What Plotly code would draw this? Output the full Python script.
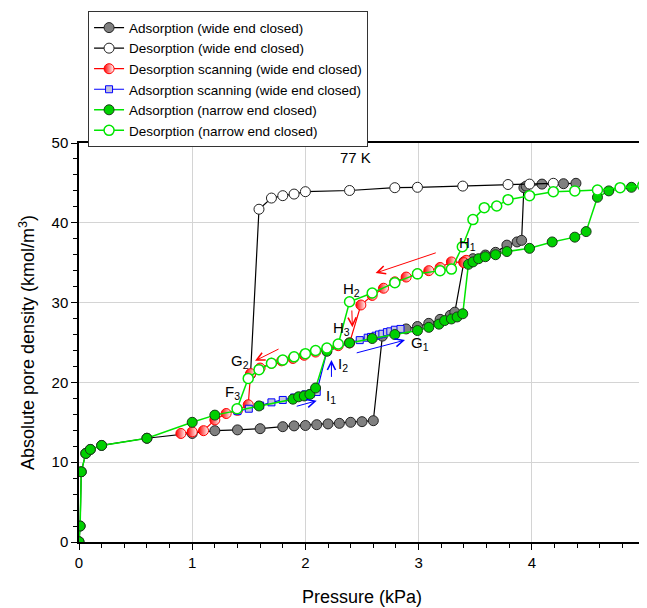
import plotly.graph_objects as go

# ---------------- data ----------------
ads_wide_x = [0, 0.01, 0.02, 0.06, 0.1, 0.2, 0.6, 1.0, 1.2, 1.4, 1.6, 1.8, 1.9, 2.0, 2.1, 2.2, 2.3, 2.4,
              2.5, 2.6, 2.68, 2.79, 2.89, 2.99, 3.09, 3.19, 3.28, 3.32, 3.40, 3.48, 3.59, 3.68, 3.78,
              3.87, 3.91, 3.93, 3.95, 4.09, 4.28, 4.39]
ads_wide_y = [0.04, 2.0, 8.8, 11.1, 11.6, 12.1, 13.0, 13.6, 13.95, 14.05, 14.2, 14.45, 14.55, 14.6, 14.7,
              14.8, 14.87, 15.0, 15.08, 15.2, 25.8, 26.3, 26.7, 27.0, 27.4, 27.9, 28.4, 28.8, 35.1, 35.5,
              35.96, 36.3, 37.2, 37.6, 37.8, 44.4, 44.6, 44.85, 44.9, 44.95]

des_wide_x = [4.19, 3.98, 3.79, 3.39, 2.99, 2.79, 2.39, 2.0, 1.9, 1.8, 1.7, 1.59, 1.515]
des_wide_y = [44.95, 44.85, 44.8, 44.6, 44.45, 44.4, 44.05, 43.9, 43.6, 43.4, 43.1, 41.7, 21.0]

des_scan_x = [3.42, 3.40, 3.29, 3.19, 3.09, 2.99, 2.89, 2.79, 2.69, 2.59, 2.49, 2.39, 2.29, 2.19, 2.09,
              1.99, 1.89, 1.79, 1.70, 1.60, 1.516, 1.495, 1.40, 1.30, 1.20, 1.10, 1.0, 0.9]
des_scan_y = [35.3, 35.0, 35.1, 34.4, 34.0, 33.6, 33.2, 32.6, 31.8, 30.9, 29.7, 24.95, 24.6, 24.1, 23.8,
              23.4, 23.0, 22.7, 22.4, 21.8, 21.1, 17.2, 16.5, 16.1, 15.3, 13.95, 13.8, 13.6]

ads_scan_x = [1.40, 1.50, 1.60, 1.70, 1.80, 1.90, 1.95, 2.0, 2.05, 2.10, 2.19, 2.39, 2.48, 2.55, 2.58,
              2.62, 2.65, 2.68, 2.72, 2.75, 2.79, 2.84]
ads_scan_y = [16.4, 16.7, 17.1, 17.5, 17.8, 18.1, 18.3, 18.5, 18.6, 18.8, 23.9, 24.95, 25.3, 25.6, 25.7,
              25.85, 26.0, 26.1, 26.3, 26.4, 26.6, 26.7]

ads_narrow_x = [0, 0.01, 0.02, 0.06, 0.1, 0.2, 0.6, 1.0, 1.2, 1.59, 1.89, 1.94, 1.99, 2.04, 2.09, 2.19,
                2.39, 2.59, 2.79, 2.99, 3.09, 3.18, 3.23, 3.29, 3.34, 3.39, 3.44, 3.48, 3.53, 3.59, 3.68,
                3.78, 3.98, 4.18, 4.38, 4.48, 4.58, 4.68, 4.88, 5.0]
ads_narrow_y = [0.04, 2.0, 8.8, 11.1, 11.6, 12.1, 13.0, 15.0, 15.9, 17.05, 17.9, 18.2, 18.3, 18.5, 19.3,
                23.9, 24.95, 25.5, 26.0, 26.5, 26.9, 27.3, 27.75, 27.95, 28.2, 28.6, 34.8, 35.1, 35.5,
                35.75, 36.0, 36.4, 36.8, 37.6, 38.2, 38.9, 43.2, 44.0, 44.45, 44.6]

des_narrow_x = [4.98, 4.78, 4.58, 4.38, 4.19, 3.98, 3.79, 3.69, 3.58, 3.48, 3.386, 3.29, 3.19, 2.99, 2.79,
                2.59, 2.39, 2.29, 2.19, 2.09, 2.0, 1.9, 1.8, 1.7, 1.59, 1.495, 1.396]
des_narrow_y = [44.65, 44.4, 44.1, 44.0, 43.9, 43.4, 42.9, 42.1, 41.9, 40.4, 37.0, 34.2, 34.0, 33.6, 32.5,
                31.2, 30.1, 24.8, 24.3, 24.0, 23.6, 23.2, 22.8, 22.4, 21.6, 20.5, 16.7]

# point labels: text, x, y
label_text = ["77 K", "H<sub>1</sub>", "H<sub>2</sub>", "H<sub>3</sub>", "G<sub>2</sub>", "F<sub>3</sub>",
              "I<sub>1</sub>", "I<sub>2</sub>", "G<sub>1</sub>"]
label_x = [2.44, 3.43, 2.41, 2.32, 1.42, 1.36, 2.23, 2.33, 3.01]
label_y = [48.2, 37.4, 31.6, 26.8, 22.6, 18.7, 18.2, 22.2, 24.9]

# arrows: (tail x, tail y) -> (head x, head y), colour
arrow_tail_x = [1.776, 3.165, 2.41, 2.44, 1.91, 2.23]
arrow_tail_y = [24.27, 36.3, 29.2, 23.65, 16.96, 20.5]
arrow_head_x = [1.555, 2.62, 2.415, 2.88, 2.10, 2.23]
arrow_head_y = [22.7, 33.7, 26.9, 25.3, 17.7, 22.8]
arrow_color = ["#ff0000", "#ff0000", "#ff0000", "#0000ff", "#0000ff", "#0000ff"]

FONT = "Arial, Liberation Sans, sans-serif"
GREEN = "#00e600"

fig = go.Figure()
fig.add_trace(go.Scatter(x=ads_wide_x, y=ads_wide_y, mode="lines+markers",
                         name="Adsorption (wide end closed)",
                         line=dict(color="black", width=1.2),
                         marker=dict(symbol="circle", size=10, color="#808080",
                                     line=dict(color="#222222", width=1))))
fig.add_trace(go.Scatter(x=des_wide_x, y=des_wide_y, mode="lines+markers",
                         name="Desorption (wide end closed)",
                         line=dict(color="black", width=1.2),
                         marker=dict(symbol="circle", size=10, color="white",
                                     line=dict(color="#222222", width=1))))
fig.add_trace(go.Scatter(x=des_scan_x, y=des_scan_y, mode="lines+markers",
                         name="Desorption scanning (wide end closed)",
                         line=dict(color="#ff0000", width=1.2),
                         marker=dict(symbol="circle", size=10, color="#ff0000",
                                     gradient=dict(type="horizontal", color="white"),
                                     line=dict(color="#ff0000", width=1))))
fig.add_trace(go.Scatter(x=ads_scan_x, y=ads_scan_y, mode="lines+markers",
                         name="Adsorption scanning (wide end closed)",
                         line=dict(color="#0000ff", width=1.2),
                         marker=dict(symbol="square", size=7, color="#c4c4dc",
                                     line=dict(color="#0000ff", width=1))))
fig.add_trace(go.Scatter(x=ads_narrow_x, y=ads_narrow_y, mode="lines+markers",
                         name="Adsorption (narrow end closed)",
                         line=dict(color=GREEN, width=1.5),
                         marker=dict(symbol="circle", size=10, color="#00d000",
                                     line=dict(color="#1a3a1a", width=1))))
fig.add_trace(go.Scatter(x=des_narrow_x, y=des_narrow_y, mode="lines+markers",
                         name="Desorption (narrow end closed)",
                         line=dict(color=GREEN, width=1.5),
                         marker=dict(symbol="circle", size=10, color="white",
                                     line=dict(color=GREEN, width=1.5))))

for t, x, y in zip(label_text, label_x, label_y):
    fig.add_annotation(x=x, y=y, text=t, showarrow=False,
                       font=dict(family=FONT, size=15, color="black"))

for tx, ty, hx, hy, c in zip(arrow_tail_x, arrow_tail_y, arrow_head_x, arrow_head_y, arrow_color):
    fig.add_annotation(x=hx, y=hy, ax=tx, ay=ty, xref="x", yref="y", axref="x", ayref="y",
                       text="", showarrow=True, arrowhead=5, arrowsize=1.6, arrowwidth=1,
                       arrowcolor=c)

# page body has a default 8px margin, so the figure is sized to fit the window from (8, 8)
fig.update_layout(
    width=639, height=600,
    margin=dict(l=71, r=2, t=135, b=66, autoexpand=False),
    paper_bgcolor="white", plot_bgcolor="white",
    font=dict(family=FONT, size=15, color="black"),
    showlegend=True,
    legend=dict(x=0.016, y=1.33, xanchor="left", yanchor="top",
                bordercolor="#333333", borderwidth=1, bgcolor="white",
                font=dict(family=FONT, size=13.5), tracegroupgap=0, itemwidth=30),
)
fig.update_xaxes(range=[0, 5], tickvals=[0, 1, 2, 3, 4, 5],
                 ticks="outside", ticklen=6, tickcolor="black", tickwidth=1,
                 ticklabeloverflow="allow",
                 minor=dict(dtick=0.2, ticks="outside", ticklen=4, tickcolor="black", showgrid=False),
                 showline=True, linecolor="black", linewidth=1.5, mirror=True,
                 showgrid=True, gridcolor="#d4d4d4", gridwidth=1.2, zeroline=False,
                 title=dict(text="Pressure (kPa)", font=dict(size=18), standoff=21),
                 tickfont=dict(size=15))
fig.update_yaxes(range=[0, 50], tickvals=[0, 10, 20, 30, 40, 50],
                 ticks="outside", ticklen=6, tickcolor="black", tickwidth=1,
                 minor=dict(dtick=2, ticks="outside", ticklen=4, tickcolor="black", showgrid=False),
                 showline=True, linecolor="black", linewidth=1.5, mirror=True,
                 showgrid=True, gridcolor="#d4d4d4", gridwidth=1.2, zeroline=False,
                 title=dict(text="Absolute pore density (kmol/m<sup>3</sup>)", font=dict(size=18), standoff=12),
                 tickfont=dict(size=15))

fig.write_html("out.html")
